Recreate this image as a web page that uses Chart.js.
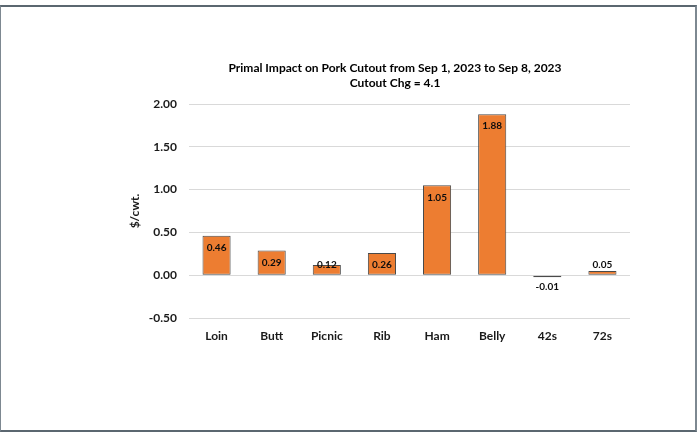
<!DOCTYPE html>
<html>
<head>
<meta charset="utf-8">
<script src="https://cdn.jsdelivr.net/npm/chart.js@4.4.0/dist/chart.umd.min.js"></script>
<style>
  html, body { margin: 0; padding: 0; background: #fff; }
  #wrap { position: relative; width: 697px; height: 432px; }
  #frame {
    position: absolute; left: 0; top: 5px; width: 694px; height: 423px;
    border-top: 2px solid #5b6770; border-bottom: 2px solid #5b6770;
    border-left: 1px solid #7d8891; border-right: 2px solid #7d8891;
    pointer-events: none;
  }
  canvas { position: absolute; left: 0; top: 0; }
</style>
</head>
<body>
<div id="wrap">
  <canvas id="cutout" width="697" height="432"></canvas>
  <div id="frame"></div>
</div>
<script>
const primals = ['Loin', 'Butt', 'Picnic', 'Rib', 'Ham', 'Belly', '42s', '72s'];
const impact = [0.46, 0.29, 0.12, 0.26, 1.05, 1.88, -0.01, 0.05];
const titleLines = ['Primal Impact on Pork Cutout from Sep 1, 2023 to Sep 8, 2023', 'Cutout Chg = 4.1'];
const yTitle = '$/cwt.';

const FONT = 'Lato, "Liberation Sans", Arial, sans-serif';
const INK = '#1a1a1a';

// two-line heading, centred over the plot
const headingPlugin = {
  id: 'heading',
  afterDraw(chart) {
    const ctx = chart.ctx;
    ctx.save();
    ctx.fillStyle = '#000';
    ctx.font = 'bold 12px ' + FONT;
    ctx.textAlign = 'center';
    ctx.textBaseline = 'middle';
    titleLines.forEach((t, i) => ctx.fillText(t, 395, 68 + i * 15));
    ctx.restore();
  }
};

// value labels: inside the top of tall bars, outside for small ones
const valueLabels = {
  id: 'valueLabels',
  afterDatasetsDraw(chart) {
    const ctx = chart.ctx;
    const meta = chart.getDatasetMeta(0);
    ctx.save();
    ctx.fillStyle = '#0d0d0d';
    ctx.font = 'bold 10px ' + FONT;
    ctx.textAlign = 'center';
    ctx.textBaseline = 'middle';
    meta.data.forEach((bar, i) => {
      const v = impact[i];
      const h = Math.abs(bar.base - bar.y);
      let y;
      if (v < 0) y = bar.base + 11;
      else if (h > 20) y = bar.y + 12;
      else if (v >= 0.1) y = bar.y;
      else y = bar.y - 6;
      ctx.fillText(v.toFixed(2), bar.x, y);
    });
    ctx.restore();
  }
};

new Chart(document.getElementById('cutout'), {
  type: 'bar',
  data: {
    labels: primals,
    datasets: [{
      data: impact,
      backgroundColor: '#ED7D31',
      borderColor: '#4a4a4a',
      borderWidth: 1,
      borderSkipped: false,
      minBarLength: 2,
      barPercentage: 0.51,
      categoryPercentage: 1
    }]
  },
  options: {
    responsive: false,
    devicePixelRatio: 1,
    animation: false,
    layout: { padding: { top: 104, left: 124, right: 67, bottom: 0 } },
    plugins: { legend: { display: false }, tooltip: { enabled: false } },
    scales: {
      x: {
        grid: { display: false, drawTicks: false },
        border: { display: false },
        ticks: { color: INK, font: { family: FONT, size: 12, weight: 'bold' }, padding: 11 },
        afterFit: s => { s.height = 114; }
      },
      y: {
        min: -0.5,
        max: 2,
        grid: { color: '#d9d9d9', lineWidth: 1, drawTicks: false },
        border: { display: false },
        ticks: {
          stepSize: 0.5,
          color: INK,
          padding: 12,
          font: { family: FONT, size: 12, weight: 'bold' },
          callback: v => v.toFixed(2)
        },
        title: { display: true, text: yTitle, color: INK, font: { family: FONT, size: 12, weight: 'bold' } },
        afterFit: s => { s.width = 65; }
      }
    }
  },
  plugins: [headingPlugin, valueLabels]
});
</script>
</body>
</html>
